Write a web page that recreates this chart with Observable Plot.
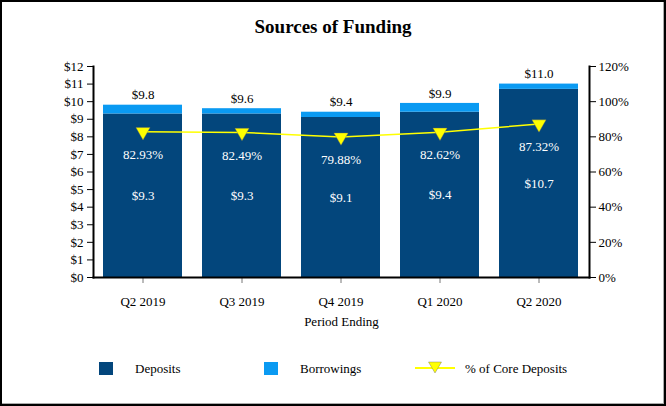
<!DOCTYPE html>
<html><head>
<meta charset="utf-8">
<script src="https://cdn.jsdelivr.net/npm/d3@7"></script>
<script src="https://cdn.jsdelivr.net/npm/@observablehq/plot@0.6"></script>
<style>
body{margin:0;background:#fff;}
#wrap{position:relative;width:666px;height:406px;font-family:"Liberation Serif","Times New Roman",serif;overflow:hidden;background:#fff;color:#000;}
#frame{position:absolute;left:0;top:0;width:666px;height:406px;box-sizing:border-box;border:2px solid #000;box-shadow:inset -1px -1px 0 #aaa;pointer-events:none;}
#title{position:absolute;left:0;width:666px;top:16px;text-align:center;font-weight:bold;font-size:19px;}
#chart{position:absolute;left:0;top:50px;}
#chart svg, #chart svg text{font-family:"Liberation Serif","Times New Roman",serif !important;}
.lg{position:absolute;font-size:13px;line-height:14px;}
.sw{position:absolute;width:14px;height:13px;}
</style>
</head><body>
<div id="wrap">
  <div id="title">Sources of Funding</div>
  <div id="chart"></div>
  <div id="legend"></div>
  <div id="frame"></div>
</div>
<script>
const periods = ["Q2 2019","Q3 2019","Q4 2019","Q1 2020","Q2 2020"];
const deposits = [9.3, 9.3, 9.1, 9.4, 10.7];
const borrowings = [0.5, 0.3, 0.3, 0.5, 0.3];
const totals = [9.8, 9.6, 9.4, 9.9, 11.0];
const corePct = [82.93, 82.49, 79.88, 82.62, 87.32];
const seriesNames = ["Deposits", "Borrowings", "% of Core Deposits"];
const colors = ["#03467c", "#0a9af2", "#ffff00"];
const FF = "'Liberation Serif','Times New Roman',serif";

const rows = periods.flatMap((p, i) => [
  {period: p, type: seriesNames[0], value: deposits[i]},
  {period: p, type: seriesNames[1], value: borrowings[i]}
]);
const pts = periods.map((p, i) => ({period: p, dep: deposits[i], total: totals[i], pct: corePct[i]}));

const chart = Plot.plot({
  width: 666, height: 290,
  marginLeft: 93, marginRight: 77, marginTop: 16, marginBottom: 63,
  style: {fontFamily: FF, fontSize: "13px", color: "#000", background: "transparent", overflow: "visible"},
  x: {domain: periods, paddingInner: 0.2, paddingOuter: 0.1, label: null},
  y: {domain: [0, 12], label: null},
  color: {domain: seriesNames.slice(0, 2), range: colors.slice(0, 2)},
  marks: [
    Plot.barY(rows, {x: "period", y: "value", fill: "type", order: seriesNames.slice(0, 2)}),
    Plot.axisY({ticks: d3.range(0, 13), tickFormat: d => "$" + d, tickSize: 6, tickPadding: 4, label: null, fontSize: 13, fontFamily: FF}),
    Plot.axisY({anchor: "right", ticks: d3.range(0, 13, 2), tickFormat: d => (d * 10) + "%", tickSize: 6, tickPadding: 3, label: null, fontSize: 13, fontFamily: FF}),
    Plot.axisX({tickSize: 6, tickPadding: 13, stroke: "#777", fontSize: 13, fontFamily: FF, label: "Period Ending", labelAnchor: "center", labelOffset: 48, labelArrow: "none"}),
    Plot.frame({anchor: "left", stroke: "#000", strokeWidth: 2}),
    Plot.frame({anchor: "right", stroke: "#000", strokeWidth: 2}),
    Plot.frame({anchor: "bottom", stroke: "#000", strokeWidth: 2}),
    Plot.text(pts, {x: "period", y: "total", text: d => "$" + d.total.toFixed(1), dy: -10, fontSize: 13, fontFamily: FF, fill: "#000"}),
    Plot.text(pts, {x: "period", y: d => d.dep / 2, text: d => "$" + d.dep.toFixed(1), fontSize: 13, fontFamily: FF, fill: "#fff"}),
    Plot.line(pts, {x: "period", y: d => d.pct / 10, stroke: colors[2], strokeWidth: 1.5}),
    Plot.dot(pts, {x: "period", y: d => d.pct / 10, symbol: "triangle", rotate: 180, r: 5.3, fill: colors[2], stroke: "#666", strokeWidth: 0.4}),
    Plot.text(pts, {x: "period", y: d => d.pct / 10, text: d => d.pct.toFixed(2) + "%", dy: 23, fontSize: 13, fontFamily: FF, fill: "#fff"})
  ]
});
document.getElementById("chart").appendChild(chart);

// legend
const lg = document.getElementById("legend");
function add(html){ lg.insertAdjacentHTML("beforeend", html); }
add(`<div class="sw" style="left:99px;top:362px;background:${colors[0]}"></div>`);
add(`<div class="lg" style="left:135px;top:362px">${seriesNames[0]}</div>`);
add(`<div class="sw" style="left:264px;top:362px;background:${colors[1]}"></div>`);
add(`<div class="lg" style="left:300px;top:362px">${seriesNames[1]}</div>`);
add(`<svg style="position:absolute;left:413px;top:360px" width="44" height="16"><line x1="2" y1="8" x2="42" y2="8" stroke="${colors[2]}" stroke-width="2"/><path d="M15.5,2 L28.5,2 L22,13 Z" fill="${colors[2]}" stroke="#666" stroke-width="0.4"/></svg>`);
add(`<div class="lg" style="left:465px;top:362px">${seriesNames[2]}</div>`);
</script>
</body></html>
